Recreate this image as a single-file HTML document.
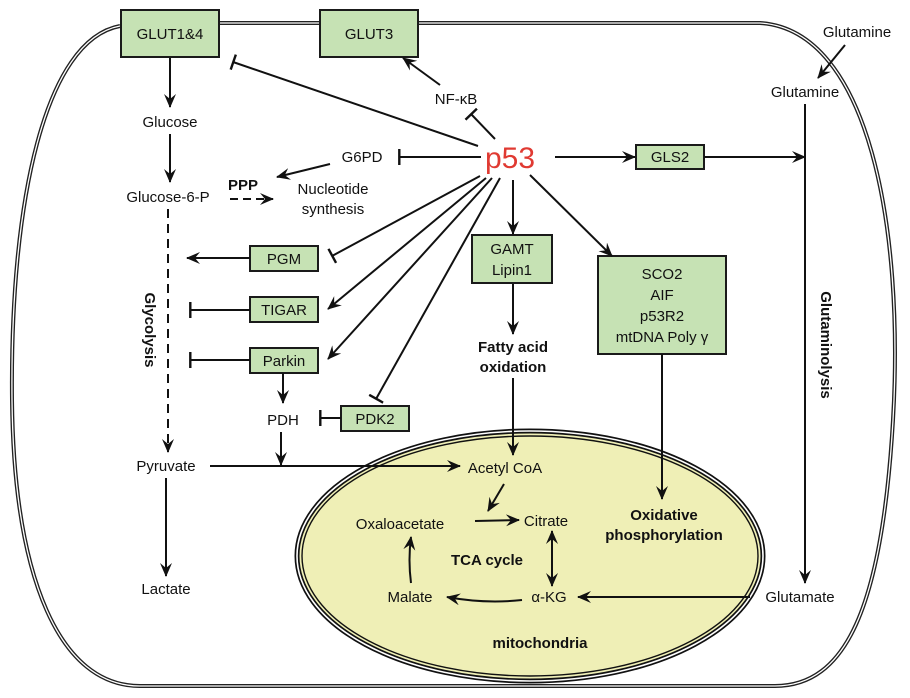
<!DOCTYPE html>
<html><head><meta charset="utf-8"><style>
html,body{margin:0;padding:0;background:#fff}
svg{display:block}
text{font-family:"Liberation Sans",Arial,sans-serif;font-size:15px;fill:#111}
.b{font-weight:bold}
.bx{fill:#c6e2b4;stroke:#1a1a1a;stroke-width:2}
.l{stroke:#111;stroke-width:2;fill:none}
</style></head><body>
<svg width="910" height="698" viewBox="0 0 910 698" xmlns="http://www.w3.org/2000/svg">
<defs>
<marker id="a" viewBox="0 0 14 12" refX="13" refY="6" markerWidth="14" markerHeight="12" markerUnits="userSpaceOnUse" orient="auto"><path d="M0,0 L14,6 L0,12 L5,6 Z" fill="#111"/></marker>
<marker id="t" viewBox="0 0 4 16" refX="2" refY="8" markerWidth="4" markerHeight="16" markerUnits="userSpaceOnUse" orient="auto"><rect x="0.5" y="0" width="2.4" height="16" fill="#111"/></marker>
</defs>
<path d="M120,26 C45,40 10,200 12,400 C14,580 60,686 140,686 L775,686 C845,686 882,610 893,420 C904,230 870,30 760,23 L120,23" fill="none" stroke="#222" stroke-width="4"/>
<path d="M120,26 C45,40 10,200 12,400 C14,580 60,686 140,686 L775,686 C845,686 882,610 893,420 C904,230 870,30 760,23 L120,23" fill="none" stroke="#fff" stroke-width="1.3"/>
<ellipse cx="530" cy="556" rx="233" ry="125" fill="#efefb6" stroke="#111" stroke-width="5"/>
<ellipse cx="530" cy="556" rx="233" ry="125" fill="none" stroke="#fff" stroke-width="1.6"/>
<ellipse cx="530" cy="556" rx="228" ry="120" fill="none" stroke="#111" stroke-width="1.4"/>

<rect class="bx" x="121" y="10" width="98" height="47"/><text x="170" y="39" text-anchor="middle">GLUT1&amp;4</text>
<rect class="bx" x="320" y="10" width="98" height="47"/><text x="369" y="39" text-anchor="middle">GLUT3</text>
<rect class="bx" x="636" y="145" width="68" height="24"/><text x="670" y="162" text-anchor="middle">GLS2</text>
<rect class="bx" x="472" y="235" width="80" height="48"/><text x="512" y="254" text-anchor="middle">GAMT</text><text x="512" y="275" text-anchor="middle">Lipin1</text>
<rect class="bx" x="598" y="256" width="128" height="98"/>
<text x="662" y="279" text-anchor="middle">SCO2</text><text x="662" y="300" text-anchor="middle">AIF</text><text x="662" y="321" text-anchor="middle">p53R2</text><text x="662" y="342" text-anchor="middle">mtDNA Poly γ</text>
<rect class="bx" x="250" y="246" width="68" height="25"/><text x="284" y="264" text-anchor="middle">PGM</text>
<rect class="bx" x="250" y="297" width="68" height="25"/><text x="284" y="315" text-anchor="middle">TIGAR</text>
<rect class="bx" x="250" y="348" width="68" height="25"/><text x="284" y="366" text-anchor="middle">Parkin</text>
<rect class="bx" x="341" y="406" width="68" height="25"/><text x="375" y="424" text-anchor="middle">PDK2</text>

<text x="170" y="127" text-anchor="middle">Glucose</text>
<text x="168" y="202" text-anchor="middle">Glucose-6-P</text>
<text x="243" y="190" text-anchor="middle" class="b">PPP</text>
<text x="333" y="194" text-anchor="middle">Nucleotide</text>
<text x="333" y="214" text-anchor="middle">synthesis</text>
<text x="362" y="162" text-anchor="middle">G6PD</text>
<text x="510" y="168" text-anchor="middle" style="font-size:30px;fill:#e03a32">p53</text>
<text x="456" y="104" text-anchor="middle">NF-κB</text>
<text x="857" y="37" text-anchor="middle">Glutamine</text>
<text x="805" y="97" text-anchor="middle">Glutamine</text>
<text x="800" y="602" text-anchor="middle">Glutamate</text>
<text x="513" y="352" text-anchor="middle" class="b">Fatty acid</text>
<text x="513" y="372" text-anchor="middle" class="b">oxidation</text>
<text x="664" y="520" text-anchor="middle" class="b">Oxidative</text>
<text x="664" y="540" text-anchor="middle" class="b">phosphorylation</text>
<text x="283" y="425" text-anchor="middle">PDH</text>
<text x="166" y="471" text-anchor="middle">Pyruvate</text>
<text x="166" y="594" text-anchor="middle">Lactate</text>
<text x="505" y="473" text-anchor="middle">Acetyl CoA</text>
<text x="400" y="529" text-anchor="middle">Oxaloacetate</text>
<text x="546" y="526" text-anchor="middle">Citrate</text>
<text x="487" y="565" text-anchor="middle" class="b">TCA cycle</text>
<text x="549" y="602" text-anchor="middle">α-KG</text>
<text x="410" y="602" text-anchor="middle">Malate</text>
<text x="540" y="648" text-anchor="middle" class="b">mitochondria</text>
<text transform="translate(145,330) rotate(90)" text-anchor="middle" class="b">Glycolysis</text>
<text transform="translate(821,345) rotate(90)" text-anchor="middle" class="b">Glutaminolysis</text>

<line class="l" x1="170" y1="58" x2="170" y2="107" marker-end="url(#a)"/>
<line class="l" x1="170" y1="134" x2="170" y2="182" marker-end="url(#a)"/>
<line class="l" x1="230" y1="199" x2="273" y2="199" stroke-dasharray="8,5" marker-end="url(#a)"/>
<line class="l" x1="168" y1="209" x2="168" y2="452" stroke-dasharray="9,6" marker-end="url(#a)"/>
<line class="l" x1="330" y1="164" x2="277" y2="177" marker-end="url(#a)"/>
<line class="l" x1="481" y1="157" x2="399" y2="157" marker-end="url(#t)"/>
<line class="l" x1="478" y1="146" x2="233" y2="62" marker-end="url(#t)"/>
<line class="l" x1="495" y1="139" x2="471" y2="114" marker-end="url(#t)"/>
<line class="l" x1="440" y1="85" x2="403" y2="58" marker-end="url(#a)"/>
<line class="l" x1="555" y1="157" x2="635" y2="157" marker-end="url(#a)"/>
<line class="l" x1="704" y1="157" x2="805" y2="157" marker-end="url(#a)"/>
<line class="l" x1="845" y1="45" x2="818" y2="78" marker-end="url(#a)"/>
<line class="l" x1="805" y1="104" x2="805" y2="583" marker-end="url(#a)"/>
<line class="l" x1="750" y1="597" x2="578" y2="597" marker-end="url(#a)"/>
<line class="l" x1="513" y1="180" x2="513" y2="234" marker-end="url(#a)"/>
<line class="l" x1="513" y1="284" x2="513" y2="334" marker-end="url(#a)"/>
<line class="l" x1="513" y1="378" x2="513" y2="455" marker-end="url(#a)"/>
<line class="l" x1="530" y1="175" x2="612" y2="256" marker-end="url(#a)"/>
<line class="l" x1="662" y1="354" x2="662" y2="499" marker-end="url(#a)"/>
<line class="l" x1="250" y1="258" x2="187" y2="258" marker-end="url(#a)"/>
<line class="l" x1="480" y1="176" x2="332" y2="256" marker-end="url(#t)"/>
<line class="l" x1="250" y1="310" x2="190" y2="310" marker-end="url(#t)"/>
<line class="l" x1="486" y1="178" x2="328" y2="309" marker-end="url(#a)"/>
<line class="l" x1="250" y1="360" x2="190" y2="360" marker-end="url(#t)"/>
<line class="l" x1="492" y1="178" x2="328" y2="359" marker-end="url(#a)"/>
<line class="l" x1="500" y1="178" x2="376" y2="399" marker-end="url(#t)"/>
<line class="l" x1="341" y1="418" x2="320" y2="418" marker-end="url(#t)"/>
<line class="l" x1="283" y1="373" x2="283" y2="403" marker-end="url(#a)"/>
<line class="l" x1="281" y1="432" x2="281" y2="465" marker-end="url(#a)"/>
<line class="l" x1="210" y1="466" x2="460" y2="466" marker-end="url(#a)"/>
<line class="l" x1="166" y1="478" x2="166" y2="576" marker-end="url(#a)"/>
<line class="l" x1="504" y1="484" x2="488" y2="511" marker-end="url(#a)"/>
<line class="l" x1="475" y1="521" x2="519" y2="520" marker-end="url(#a)"/>
<line class="l" x1="552" y1="545" x2="552" y2="531" marker-end="url(#a)"/>
<line class="l" x1="552" y1="540" x2="552" y2="586" marker-end="url(#a)"/>
<path class="l" d="M522,600 Q485,604 447,597" marker-end="url(#a)"/>
<path class="l" d="M411,583 Q408,560 411,537" marker-end="url(#a)"/>
</svg>
</body></html>
